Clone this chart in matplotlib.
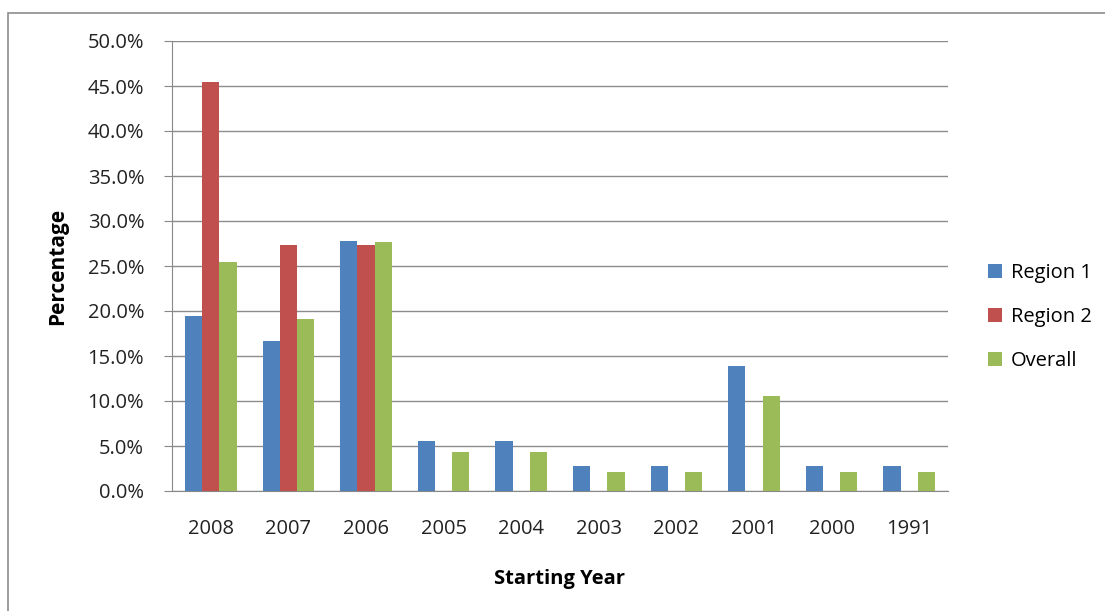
import matplotlib.pyplot as plt
import numpy as np
from matplotlib.patches import Rectangle

years = ['2008', '2007', '2006', '2005', '2004', '2003', '2002', '2001', '2000', '1991']
region1 = [19.4, 16.7, 27.8, 5.6, 5.6, 2.8, 2.8, 13.9, 2.8, 2.8]
region2 = [45.5, 27.3, 27.3, 0, 0, 0, 0, 0, 0, 0]
overall = [25.5, 19.1, 27.7, 4.3, 4.3, 2.1, 2.1, 10.6, 2.1, 2.1]

plt.rcParams['font.family'] = ['Open Sans', 'DejaVu Sans']

fig = plt.figure(figsize=(11.05, 6.11), dpi=100)
fig.patches.append(Rectangle((8/1105, -0.1), 1.2, (611-13)/611 + 0.1,
                             transform=fig.transFigure, fill=False,
                             edgecolor='#8c8c8c', linewidth=1.2))
ax = fig.add_axes([172/1105, 120/611, 776/1105, 450/611])

x = np.arange(len(years))
w = 0.222
ax.bar(x - w, region1, w, color='#4F81BD', label='Region 1', zorder=3)
ax.bar(x, region2, w, color='#C0504D', label='Region 2', zorder=3)
ax.bar(x + w, overall, w, color='#9BBB59', label='Overall', zorder=3)

ax.set_xlim(-0.5, len(years) - 0.5)
ax.set_ylim(0, 50)
ax.set_yticks(np.arange(0, 51, 5))
ax.set_yticklabels(['%.1f%%' % v for v in np.arange(0, 51, 5)], fontsize=14.5, color='#222222')
ax.set_xticks(x)
ax.set_xticklabels(years, fontsize=14.5, color='#222222')
ax.tick_params(axis='x', length=0, pad=20)
ax.tick_params(axis='y', length=6, color='#888888', pad=14)
ax.yaxis.grid(True, color='#8c8c8c', linewidth=1, zorder=0)
for s in ['top', 'right']:
    ax.spines[s].set_visible(False)
ax.spines['left'].set_color('#888888')
ax.spines['bottom'].set_color('#888888')

ax.set_ylabel('Percentage', fontsize=15, fontweight='bold', labelpad=14)
ax.set_xlabel('Starting Year', fontsize=14.5, fontweight='bold', labelpad=22)

ax.legend(loc='center left', bbox_to_anchor=(1.028, 0.387), frameon=False,
          fontsize=14.5, handlelength=0.7, handleheight=0.7, labelspacing=1.2,
          handletextpad=0.45)

fig.savefig('out.png', dpi=100)
